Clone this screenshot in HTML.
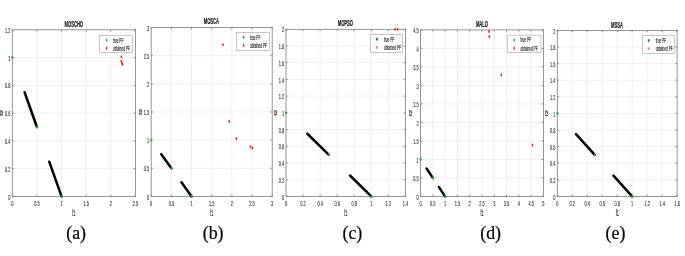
<!DOCTYPE html>
<html><head><meta charset="utf-8"><style>
html,body{margin:0;padding:0;background:#fff;}
body{width:685px;height:256px;overflow:hidden;}
svg{display:block;filter:blur(0.3px);}
</style></head><body>
<svg width="685" height="256" viewBox="0 0 685 256">
<rect width="685" height="256" fill="#fff"/>
<path d="M36.92 29.80V196.40M61.54 29.80V196.40M86.16 29.80V196.40M110.78 29.80V196.40M12.30 168.63H135.40M12.30 140.87H135.40M12.30 113.10H135.40M12.30 85.33H135.40M12.30 57.57H135.40" stroke="#e8e8e8" stroke-width="0.7" fill="none"/>
<path d="M12.30 196.40v-1.7M12.30 29.80v1.7M36.92 196.40v-1.7M36.92 29.80v1.7M61.54 196.40v-1.7M61.54 29.80v1.7M86.16 196.40v-1.7M86.16 29.80v1.7M110.78 196.40v-1.7M110.78 29.80v1.7M135.40 196.40v-1.7M135.40 29.80v1.7M12.30 196.40h1.7M135.40 196.40h-1.7M12.30 168.63h1.7M135.40 168.63h-1.7M12.30 140.87h1.7M135.40 140.87h-1.7M12.30 113.10h1.7M135.40 113.10h-1.7M12.30 85.33h1.7M135.40 85.33h-1.7M12.30 57.57h1.7M135.40 57.57h-1.7M12.30 29.80h1.7M135.40 29.80h-1.7" stroke="#606060" stroke-width="0.7" fill="none"/>
<rect x="12.30" y="29.80" width="123.10" height="166.60" fill="none" stroke="#7c7c7c" stroke-width="0.8"/>
<text transform="translate(12.30,206.10) scale(0.56,1)" font-family="Liberation Sans" font-size="7.0" font-weight="normal" text-anchor="middle" fill="#2a2a2a" stroke="#2a2a2a" stroke-width="0.12">0</text>
<text transform="translate(36.92,206.10) scale(0.56,1)" font-family="Liberation Sans" font-size="7.0" font-weight="normal" text-anchor="middle" fill="#2a2a2a" stroke="#2a2a2a" stroke-width="0.12">0.5</text>
<text transform="translate(61.54,206.10) scale(0.56,1)" font-family="Liberation Sans" font-size="7.0" font-weight="normal" text-anchor="middle" fill="#2a2a2a" stroke="#2a2a2a" stroke-width="0.12">1</text>
<text transform="translate(86.16,206.10) scale(0.56,1)" font-family="Liberation Sans" font-size="7.0" font-weight="normal" text-anchor="middle" fill="#2a2a2a" stroke="#2a2a2a" stroke-width="0.12">1.5</text>
<text transform="translate(110.78,206.10) scale(0.56,1)" font-family="Liberation Sans" font-size="7.0" font-weight="normal" text-anchor="middle" fill="#2a2a2a" stroke="#2a2a2a" stroke-width="0.12">2</text>
<text transform="translate(135.40,206.10) scale(0.56,1)" font-family="Liberation Sans" font-size="7.0" font-weight="normal" text-anchor="middle" fill="#2a2a2a" stroke="#2a2a2a" stroke-width="0.12">2.5</text>
<text transform="translate(10.40,199.50) scale(0.56,1)" font-family="Liberation Sans" font-size="7.0" font-weight="normal" text-anchor="end" fill="#2a2a2a" stroke="#2a2a2a" stroke-width="0.12">0</text>
<text transform="translate(10.40,171.73) scale(0.56,1)" font-family="Liberation Sans" font-size="7.0" font-weight="normal" text-anchor="end" fill="#2a2a2a" stroke="#2a2a2a" stroke-width="0.12">0.2</text>
<text transform="translate(10.40,143.97) scale(0.56,1)" font-family="Liberation Sans" font-size="7.0" font-weight="normal" text-anchor="end" fill="#2a2a2a" stroke="#2a2a2a" stroke-width="0.12">0.4</text>
<text transform="translate(10.40,116.20) scale(0.56,1)" font-family="Liberation Sans" font-size="7.0" font-weight="normal" text-anchor="end" fill="#2a2a2a" stroke="#2a2a2a" stroke-width="0.12">0.6</text>
<text transform="translate(10.40,88.43) scale(0.56,1)" font-family="Liberation Sans" font-size="7.0" font-weight="normal" text-anchor="end" fill="#2a2a2a" stroke="#2a2a2a" stroke-width="0.12">0.8</text>
<text transform="translate(10.40,60.67) scale(0.56,1)" font-family="Liberation Sans" font-size="7.0" font-weight="normal" text-anchor="end" fill="#2a2a2a" stroke="#2a2a2a" stroke-width="0.12">1</text>
<text transform="translate(10.40,32.90) scale(0.56,1)" font-family="Liberation Sans" font-size="7.0" font-weight="normal" text-anchor="end" fill="#2a2a2a" stroke="#2a2a2a" stroke-width="0.12">1.2</text>
<text transform="translate(73.85,215.60) scale(0.45,1)" font-family="Liberation Sans" font-size="8.4" font-weight="normal" text-anchor="middle" fill="#2a2a2a" stroke="#2a2a2a" stroke-width="0.2">f1</text>
<text transform="translate(3.03,113.00) rotate(-90) scale(1,0.5)" font-family="Liberation Sans" font-size="7.4" font-weight="normal" text-anchor="middle" fill="#2a2a2a" stroke="#2a2a2a" stroke-width="0.3">f2</text>
<text transform="translate(73.80,26.90) scale(0.47,1)" font-family="Liberation Sans" font-size="8.8" font-weight="bold" text-anchor="middle" fill="#111" stroke="#111" stroke-width="0.18">MOSCHO</text>
<path d="M24.61 92.28L36.92 126.98M49.23 161.69L61.54 196.40" stroke="#000" stroke-width="2.5" stroke-linecap="round" fill="none"/>
<ellipse cx="12.30" cy="57.57" rx="1.0" ry="1.4" fill="#1fae1f"/>
<ellipse cx="36.92" cy="126.98" rx="1.0" ry="1.4" fill="#1fae1f"/>
<ellipse cx="61.54" cy="196.40" rx="1.0" ry="1.4" fill="#1fae1f"/>
<ellipse cx="121.40" cy="56.70" rx="0.85" ry="1.55" fill="#ff2020"/>
<ellipse cx="121.30" cy="61.00" rx="0.85" ry="1.55" fill="#ff2020"/>
<ellipse cx="121.90" cy="62.80" rx="0.85" ry="1.55" fill="#ff2020"/>
<ellipse cx="122.50" cy="64.30" rx="0.85" ry="1.55" fill="#ff2020"/>
<rect x="99.60" y="35.30" width="33.00" height="17.30" fill="#fff" stroke="#a0a0a0" stroke-width="0.6"/>
<ellipse cx="106.60" cy="40.10" rx="0.85" ry="1.6" fill="#1fae1f"/>
<ellipse cx="106.60" cy="48.30" rx="0.75" ry="1.7" fill="#ff2020"/>
<text transform="translate(113.00,42.50) scale(0.48,1)" font-family="Liberation Sans" font-size="6.6" font-weight="normal" text-anchor="start" fill="#2a2a2a" stroke="#2a2a2a" stroke-width="0.2">true PF</text>
<text transform="translate(113.00,50.60) scale(0.48,1)" font-family="Liberation Sans" font-size="6.6" font-weight="normal" text-anchor="start" fill="#2a2a2a" stroke="#2a2a2a" stroke-width="0.2">obtained PF</text>
<text transform="translate(76.10,238.90) scale(0.92,1)" font-family="Liberation Serif" font-size="19.4" font-weight="normal" text-anchor="middle" fill="#000" stroke="#000" stroke-width="0.22">(a)</text>
<path d="M171.37 27.50V196.40M191.53 27.50V196.40M211.70 27.50V196.40M231.87 27.50V196.40M252.03 27.50V196.40M151.20 168.25H272.20M151.20 140.10H272.20M151.20 111.95H272.20M151.20 83.80H272.20M151.20 55.65H272.20" stroke="#e8e8e8" stroke-width="0.7" fill="none"/>
<path d="M151.20 196.40v-1.7M151.20 27.50v1.7M171.37 196.40v-1.7M171.37 27.50v1.7M191.53 196.40v-1.7M191.53 27.50v1.7M211.70 196.40v-1.7M211.70 27.50v1.7M231.87 196.40v-1.7M231.87 27.50v1.7M252.03 196.40v-1.7M252.03 27.50v1.7M272.20 196.40v-1.7M272.20 27.50v1.7M151.20 196.40h1.7M272.20 196.40h-1.7M151.20 168.25h1.7M272.20 168.25h-1.7M151.20 140.10h1.7M272.20 140.10h-1.7M151.20 111.95h1.7M272.20 111.95h-1.7M151.20 83.80h1.7M272.20 83.80h-1.7M151.20 55.65h1.7M272.20 55.65h-1.7M151.20 27.50h1.7M272.20 27.50h-1.7" stroke="#606060" stroke-width="0.7" fill="none"/>
<rect x="151.20" y="27.50" width="121.00" height="168.90" fill="none" stroke="#7c7c7c" stroke-width="0.8"/>
<text transform="translate(151.20,206.10) scale(0.56,1)" font-family="Liberation Sans" font-size="7.0" font-weight="normal" text-anchor="middle" fill="#2a2a2a" stroke="#2a2a2a" stroke-width="0.12">0</text>
<text transform="translate(171.37,206.10) scale(0.56,1)" font-family="Liberation Sans" font-size="7.0" font-weight="normal" text-anchor="middle" fill="#2a2a2a" stroke="#2a2a2a" stroke-width="0.12">0.5</text>
<text transform="translate(191.53,206.10) scale(0.56,1)" font-family="Liberation Sans" font-size="7.0" font-weight="normal" text-anchor="middle" fill="#2a2a2a" stroke="#2a2a2a" stroke-width="0.12">1</text>
<text transform="translate(211.70,206.10) scale(0.56,1)" font-family="Liberation Sans" font-size="7.0" font-weight="normal" text-anchor="middle" fill="#2a2a2a" stroke="#2a2a2a" stroke-width="0.12">1.5</text>
<text transform="translate(231.87,206.10) scale(0.56,1)" font-family="Liberation Sans" font-size="7.0" font-weight="normal" text-anchor="middle" fill="#2a2a2a" stroke="#2a2a2a" stroke-width="0.12">2</text>
<text transform="translate(252.03,206.10) scale(0.56,1)" font-family="Liberation Sans" font-size="7.0" font-weight="normal" text-anchor="middle" fill="#2a2a2a" stroke="#2a2a2a" stroke-width="0.12">2.5</text>
<text transform="translate(272.20,206.10) scale(0.56,1)" font-family="Liberation Sans" font-size="7.0" font-weight="normal" text-anchor="middle" fill="#2a2a2a" stroke="#2a2a2a" stroke-width="0.12">3</text>
<text transform="translate(149.30,199.50) scale(0.56,1)" font-family="Liberation Sans" font-size="7.0" font-weight="normal" text-anchor="end" fill="#2a2a2a" stroke="#2a2a2a" stroke-width="0.12">0</text>
<text transform="translate(149.30,171.35) scale(0.56,1)" font-family="Liberation Sans" font-size="7.0" font-weight="normal" text-anchor="end" fill="#2a2a2a" stroke="#2a2a2a" stroke-width="0.12">0.5</text>
<text transform="translate(149.30,143.20) scale(0.56,1)" font-family="Liberation Sans" font-size="7.0" font-weight="normal" text-anchor="end" fill="#2a2a2a" stroke="#2a2a2a" stroke-width="0.12">1</text>
<text transform="translate(149.30,115.05) scale(0.56,1)" font-family="Liberation Sans" font-size="7.0" font-weight="normal" text-anchor="end" fill="#2a2a2a" stroke="#2a2a2a" stroke-width="0.12">1.5</text>
<text transform="translate(149.30,86.90) scale(0.56,1)" font-family="Liberation Sans" font-size="7.0" font-weight="normal" text-anchor="end" fill="#2a2a2a" stroke="#2a2a2a" stroke-width="0.12">2</text>
<text transform="translate(149.30,58.75) scale(0.56,1)" font-family="Liberation Sans" font-size="7.0" font-weight="normal" text-anchor="end" fill="#2a2a2a" stroke="#2a2a2a" stroke-width="0.12">2.5</text>
<text transform="translate(149.30,30.60) scale(0.56,1)" font-family="Liberation Sans" font-size="7.0" font-weight="normal" text-anchor="end" fill="#2a2a2a" stroke="#2a2a2a" stroke-width="0.12">3</text>
<text transform="translate(211.70,215.60) scale(0.45,1)" font-family="Liberation Sans" font-size="8.4" font-weight="normal" text-anchor="middle" fill="#2a2a2a" stroke="#2a2a2a" stroke-width="0.2">f1</text>
<text transform="translate(141.73,111.85) rotate(-90) scale(1,0.5)" font-family="Liberation Sans" font-size="7.4" font-weight="normal" text-anchor="middle" fill="#2a2a2a" stroke="#2a2a2a" stroke-width="0.3">f2</text>
<text transform="translate(211.40,24.00) scale(0.47,1)" font-family="Liberation Sans" font-size="8.8" font-weight="bold" text-anchor="middle" fill="#111" stroke="#111" stroke-width="0.18">MOSCA</text>
<path d="M161.28 154.18L171.37 168.25M181.45 182.33L191.53 196.40" stroke="#000" stroke-width="2.5" stroke-linecap="round" fill="none"/>
<ellipse cx="151.20" cy="140.10" rx="1.0" ry="1.4" fill="#1fae1f"/>
<ellipse cx="171.37" cy="168.25" rx="1.0" ry="1.4" fill="#1fae1f"/>
<ellipse cx="191.53" cy="196.40" rx="1.0" ry="1.4" fill="#1fae1f"/>
<ellipse cx="223.10" cy="44.80" rx="0.85" ry="1.55" fill="#ff2020"/>
<ellipse cx="229.30" cy="121.40" rx="0.85" ry="1.55" fill="#ff2020"/>
<ellipse cx="236.40" cy="138.60" rx="0.85" ry="1.55" fill="#ff2020"/>
<ellipse cx="250.40" cy="146.70" rx="0.85" ry="1.55" fill="#ff2020"/>
<ellipse cx="252.50" cy="147.90" rx="0.85" ry="1.55" fill="#ff2020"/>
<rect x="236.60" y="32.50" width="32.80" height="18.10" fill="#fff" stroke="#a0a0a0" stroke-width="0.6"/>
<ellipse cx="243.60" cy="37.30" rx="0.85" ry="1.6" fill="#1fae1f"/>
<ellipse cx="243.60" cy="45.50" rx="0.75" ry="1.7" fill="#ff2020"/>
<text transform="translate(250.00,39.70) scale(0.48,1)" font-family="Liberation Sans" font-size="6.6" font-weight="normal" text-anchor="start" fill="#2a2a2a" stroke="#2a2a2a" stroke-width="0.2">true PF</text>
<text transform="translate(250.00,47.80) scale(0.48,1)" font-family="Liberation Sans" font-size="6.6" font-weight="normal" text-anchor="start" fill="#2a2a2a" stroke="#2a2a2a" stroke-width="0.2">obtained PF</text>
<text transform="translate(213.10,238.90) scale(0.92,1)" font-family="Liberation Serif" font-size="19.4" font-weight="normal" text-anchor="middle" fill="#000" stroke="#000" stroke-width="0.22">(b)</text>
<path d="M303.06 29.30V196.40M320.11 29.30V196.40M337.17 29.30V196.40M354.23 29.30V196.40M371.29 29.30V196.40M388.34 29.30V196.40M286.00 179.69H405.40M286.00 162.98H405.40M286.00 146.27H405.40M286.00 129.56H405.40M286.00 112.85H405.40M286.00 96.14H405.40M286.00 79.43H405.40M286.00 62.72H405.40M286.00 46.01H405.40" stroke="#e8e8e8" stroke-width="0.7" fill="none"/>
<path d="M286.00 196.40v-1.7M286.00 29.30v1.7M303.06 196.40v-1.7M303.06 29.30v1.7M320.11 196.40v-1.7M320.11 29.30v1.7M337.17 196.40v-1.7M337.17 29.30v1.7M354.23 196.40v-1.7M354.23 29.30v1.7M371.29 196.40v-1.7M371.29 29.30v1.7M388.34 196.40v-1.7M388.34 29.30v1.7M405.40 196.40v-1.7M405.40 29.30v1.7M286.00 196.40h1.7M405.40 196.40h-1.7M286.00 179.69h1.7M405.40 179.69h-1.7M286.00 162.98h1.7M405.40 162.98h-1.7M286.00 146.27h1.7M405.40 146.27h-1.7M286.00 129.56h1.7M405.40 129.56h-1.7M286.00 112.85h1.7M405.40 112.85h-1.7M286.00 96.14h1.7M405.40 96.14h-1.7M286.00 79.43h1.7M405.40 79.43h-1.7M286.00 62.72h1.7M405.40 62.72h-1.7M286.00 46.01h1.7M405.40 46.01h-1.7M286.00 29.30h1.7M405.40 29.30h-1.7" stroke="#606060" stroke-width="0.7" fill="none"/>
<rect x="286.00" y="29.30" width="119.40" height="167.10" fill="none" stroke="#7c7c7c" stroke-width="0.8"/>
<text transform="translate(286.00,206.10) scale(0.56,1)" font-family="Liberation Sans" font-size="7.0" font-weight="normal" text-anchor="middle" fill="#2a2a2a" stroke="#2a2a2a" stroke-width="0.12">0</text>
<text transform="translate(303.06,206.10) scale(0.56,1)" font-family="Liberation Sans" font-size="7.0" font-weight="normal" text-anchor="middle" fill="#2a2a2a" stroke="#2a2a2a" stroke-width="0.12">0.2</text>
<text transform="translate(320.11,206.10) scale(0.56,1)" font-family="Liberation Sans" font-size="7.0" font-weight="normal" text-anchor="middle" fill="#2a2a2a" stroke="#2a2a2a" stroke-width="0.12">0.4</text>
<text transform="translate(337.17,206.10) scale(0.56,1)" font-family="Liberation Sans" font-size="7.0" font-weight="normal" text-anchor="middle" fill="#2a2a2a" stroke="#2a2a2a" stroke-width="0.12">0.6</text>
<text transform="translate(354.23,206.10) scale(0.56,1)" font-family="Liberation Sans" font-size="7.0" font-weight="normal" text-anchor="middle" fill="#2a2a2a" stroke="#2a2a2a" stroke-width="0.12">0.8</text>
<text transform="translate(371.29,206.10) scale(0.56,1)" font-family="Liberation Sans" font-size="7.0" font-weight="normal" text-anchor="middle" fill="#2a2a2a" stroke="#2a2a2a" stroke-width="0.12">1</text>
<text transform="translate(388.34,206.10) scale(0.56,1)" font-family="Liberation Sans" font-size="7.0" font-weight="normal" text-anchor="middle" fill="#2a2a2a" stroke="#2a2a2a" stroke-width="0.12">1.2</text>
<text transform="translate(405.40,206.10) scale(0.56,1)" font-family="Liberation Sans" font-size="7.0" font-weight="normal" text-anchor="middle" fill="#2a2a2a" stroke="#2a2a2a" stroke-width="0.12">1.4</text>
<text transform="translate(284.10,199.50) scale(0.56,1)" font-family="Liberation Sans" font-size="7.0" font-weight="normal" text-anchor="end" fill="#2a2a2a" stroke="#2a2a2a" stroke-width="0.12">0</text>
<text transform="translate(284.10,182.79) scale(0.56,1)" font-family="Liberation Sans" font-size="7.0" font-weight="normal" text-anchor="end" fill="#2a2a2a" stroke="#2a2a2a" stroke-width="0.12">0.2</text>
<text transform="translate(284.10,166.08) scale(0.56,1)" font-family="Liberation Sans" font-size="7.0" font-weight="normal" text-anchor="end" fill="#2a2a2a" stroke="#2a2a2a" stroke-width="0.12">0.4</text>
<text transform="translate(284.10,149.37) scale(0.56,1)" font-family="Liberation Sans" font-size="7.0" font-weight="normal" text-anchor="end" fill="#2a2a2a" stroke="#2a2a2a" stroke-width="0.12">0.6</text>
<text transform="translate(284.10,132.66) scale(0.56,1)" font-family="Liberation Sans" font-size="7.0" font-weight="normal" text-anchor="end" fill="#2a2a2a" stroke="#2a2a2a" stroke-width="0.12">0.8</text>
<text transform="translate(284.10,115.95) scale(0.56,1)" font-family="Liberation Sans" font-size="7.0" font-weight="normal" text-anchor="end" fill="#2a2a2a" stroke="#2a2a2a" stroke-width="0.12">1</text>
<text transform="translate(284.10,99.24) scale(0.56,1)" font-family="Liberation Sans" font-size="7.0" font-weight="normal" text-anchor="end" fill="#2a2a2a" stroke="#2a2a2a" stroke-width="0.12">1.2</text>
<text transform="translate(284.10,82.53) scale(0.56,1)" font-family="Liberation Sans" font-size="7.0" font-weight="normal" text-anchor="end" fill="#2a2a2a" stroke="#2a2a2a" stroke-width="0.12">1.4</text>
<text transform="translate(284.10,65.82) scale(0.56,1)" font-family="Liberation Sans" font-size="7.0" font-weight="normal" text-anchor="end" fill="#2a2a2a" stroke="#2a2a2a" stroke-width="0.12">1.6</text>
<text transform="translate(284.10,49.11) scale(0.56,1)" font-family="Liberation Sans" font-size="7.0" font-weight="normal" text-anchor="end" fill="#2a2a2a" stroke="#2a2a2a" stroke-width="0.12">1.8</text>
<text transform="translate(284.10,32.40) scale(0.56,1)" font-family="Liberation Sans" font-size="7.0" font-weight="normal" text-anchor="end" fill="#2a2a2a" stroke="#2a2a2a" stroke-width="0.12">2</text>
<text transform="translate(345.70,215.60) scale(0.45,1)" font-family="Liberation Sans" font-size="8.4" font-weight="normal" text-anchor="middle" fill="#2a2a2a" stroke="#2a2a2a" stroke-width="0.2">f1</text>
<text transform="translate(277.33,112.75) rotate(-90) scale(1,0.5)" font-family="Liberation Sans" font-size="7.4" font-weight="normal" text-anchor="middle" fill="#2a2a2a" stroke="#2a2a2a" stroke-width="0.3">f2</text>
<text transform="translate(345.40,25.80) scale(0.47,1)" font-family="Liberation Sans" font-size="8.8" font-weight="bold" text-anchor="middle" fill="#111" stroke="#111" stroke-width="0.18">MOPSO</text>
<path d="M307.32 133.74L328.64 154.62M349.96 175.51L371.29 196.40" stroke="#000" stroke-width="2.5" stroke-linecap="round" fill="none"/>
<ellipse cx="286.00" cy="112.85" rx="1.0" ry="1.4" fill="#1fae1f"/>
<ellipse cx="328.64" cy="154.62" rx="1.0" ry="1.4" fill="#1fae1f"/>
<ellipse cx="371.29" cy="196.40" rx="1.0" ry="1.4" fill="#1fae1f"/>
<ellipse cx="395.00" cy="29.30" rx="0.85" ry="1.55" fill="#ff2020"/>
<ellipse cx="397.70" cy="29.30" rx="0.85" ry="1.55" fill="#ff2020"/>
<rect x="370.50" y="34.40" width="32.10" height="18.00" fill="#fff" stroke="#a0a0a0" stroke-width="0.6"/>
<rect x="376.00" y="37.90" width="1.8" height="2.6" fill="#138a13"/>
<rect x="376.00" y="46.10" width="1.8" height="2.6" fill="#ff7a7a"/>
<text transform="translate(383.90,41.60) scale(0.48,1)" font-family="Liberation Sans" font-size="6.6" font-weight="normal" text-anchor="start" fill="#2a2a2a" stroke="#2a2a2a" stroke-width="0.2">true PF</text>
<text transform="translate(383.90,49.70) scale(0.48,1)" font-family="Liberation Sans" font-size="6.6" font-weight="normal" text-anchor="start" fill="#2a2a2a" stroke="#2a2a2a" stroke-width="0.2">obtained PF</text>
<text transform="translate(352.40,238.90) scale(0.92,1)" font-family="Liberation Serif" font-size="19.4" font-weight="normal" text-anchor="middle" fill="#000" stroke="#000" stroke-width="0.22">(c)</text>
<path d="M432.79 29.90V196.40M445.08 29.90V196.40M457.37 29.90V196.40M469.66 29.90V196.40M481.95 29.90V196.40M494.24 29.90V196.40M506.53 29.90V196.40M518.82 29.90V196.40M531.11 29.90V196.40M420.50 177.90H543.40M420.50 159.40H543.40M420.50 140.90H543.40M420.50 122.40H543.40M420.50 103.90H543.40M420.50 85.40H543.40M420.50 66.90H543.40M420.50 48.40H543.40" stroke="#e8e8e8" stroke-width="0.7" fill="none"/>
<path d="M420.50 196.40v-1.7M420.50 29.90v1.7M432.79 196.40v-1.7M432.79 29.90v1.7M445.08 196.40v-1.7M445.08 29.90v1.7M457.37 196.40v-1.7M457.37 29.90v1.7M469.66 196.40v-1.7M469.66 29.90v1.7M481.95 196.40v-1.7M481.95 29.90v1.7M494.24 196.40v-1.7M494.24 29.90v1.7M506.53 196.40v-1.7M506.53 29.90v1.7M518.82 196.40v-1.7M518.82 29.90v1.7M531.11 196.40v-1.7M531.11 29.90v1.7M543.40 196.40v-1.7M543.40 29.90v1.7M420.50 196.40h1.7M543.40 196.40h-1.7M420.50 177.90h1.7M543.40 177.90h-1.7M420.50 159.40h1.7M543.40 159.40h-1.7M420.50 140.90h1.7M543.40 140.90h-1.7M420.50 122.40h1.7M543.40 122.40h-1.7M420.50 103.90h1.7M543.40 103.90h-1.7M420.50 85.40h1.7M543.40 85.40h-1.7M420.50 66.90h1.7M543.40 66.90h-1.7M420.50 48.40h1.7M543.40 48.40h-1.7M420.50 29.90h1.7M543.40 29.90h-1.7" stroke="#606060" stroke-width="0.7" fill="none"/>
<rect x="420.50" y="29.90" width="122.90" height="166.50" fill="none" stroke="#7c7c7c" stroke-width="0.8"/>
<text transform="translate(420.50,206.10) scale(0.56,1)" font-family="Liberation Sans" font-size="7.0" font-weight="normal" text-anchor="middle" fill="#2a2a2a" stroke="#2a2a2a" stroke-width="0.12">0</text>
<text transform="translate(432.79,206.10) scale(0.56,1)" font-family="Liberation Sans" font-size="7.0" font-weight="normal" text-anchor="middle" fill="#2a2a2a" stroke="#2a2a2a" stroke-width="0.12">0.5</text>
<text transform="translate(445.08,206.10) scale(0.56,1)" font-family="Liberation Sans" font-size="7.0" font-weight="normal" text-anchor="middle" fill="#2a2a2a" stroke="#2a2a2a" stroke-width="0.12">1</text>
<text transform="translate(457.37,206.10) scale(0.56,1)" font-family="Liberation Sans" font-size="7.0" font-weight="normal" text-anchor="middle" fill="#2a2a2a" stroke="#2a2a2a" stroke-width="0.12">1.5</text>
<text transform="translate(469.66,206.10) scale(0.56,1)" font-family="Liberation Sans" font-size="7.0" font-weight="normal" text-anchor="middle" fill="#2a2a2a" stroke="#2a2a2a" stroke-width="0.12">2</text>
<text transform="translate(481.95,206.10) scale(0.56,1)" font-family="Liberation Sans" font-size="7.0" font-weight="normal" text-anchor="middle" fill="#2a2a2a" stroke="#2a2a2a" stroke-width="0.12">2.5</text>
<text transform="translate(494.24,206.10) scale(0.56,1)" font-family="Liberation Sans" font-size="7.0" font-weight="normal" text-anchor="middle" fill="#2a2a2a" stroke="#2a2a2a" stroke-width="0.12">3</text>
<text transform="translate(506.53,206.10) scale(0.56,1)" font-family="Liberation Sans" font-size="7.0" font-weight="normal" text-anchor="middle" fill="#2a2a2a" stroke="#2a2a2a" stroke-width="0.12">3.5</text>
<text transform="translate(518.82,206.10) scale(0.56,1)" font-family="Liberation Sans" font-size="7.0" font-weight="normal" text-anchor="middle" fill="#2a2a2a" stroke="#2a2a2a" stroke-width="0.12">4</text>
<text transform="translate(531.11,206.10) scale(0.56,1)" font-family="Liberation Sans" font-size="7.0" font-weight="normal" text-anchor="middle" fill="#2a2a2a" stroke="#2a2a2a" stroke-width="0.12">4.5</text>
<text transform="translate(543.40,206.10) scale(0.56,1)" font-family="Liberation Sans" font-size="7.0" font-weight="normal" text-anchor="middle" fill="#2a2a2a" stroke="#2a2a2a" stroke-width="0.12">5</text>
<text transform="translate(418.60,199.50) scale(0.56,1)" font-family="Liberation Sans" font-size="7.0" font-weight="normal" text-anchor="end" fill="#2a2a2a" stroke="#2a2a2a" stroke-width="0.12">0</text>
<text transform="translate(418.60,181.00) scale(0.56,1)" font-family="Liberation Sans" font-size="7.0" font-weight="normal" text-anchor="end" fill="#2a2a2a" stroke="#2a2a2a" stroke-width="0.12">0.5</text>
<text transform="translate(418.60,162.50) scale(0.56,1)" font-family="Liberation Sans" font-size="7.0" font-weight="normal" text-anchor="end" fill="#2a2a2a" stroke="#2a2a2a" stroke-width="0.12">1</text>
<text transform="translate(418.60,144.00) scale(0.56,1)" font-family="Liberation Sans" font-size="7.0" font-weight="normal" text-anchor="end" fill="#2a2a2a" stroke="#2a2a2a" stroke-width="0.12">1.5</text>
<text transform="translate(418.60,125.50) scale(0.56,1)" font-family="Liberation Sans" font-size="7.0" font-weight="normal" text-anchor="end" fill="#2a2a2a" stroke="#2a2a2a" stroke-width="0.12">2</text>
<text transform="translate(418.60,107.00) scale(0.56,1)" font-family="Liberation Sans" font-size="7.0" font-weight="normal" text-anchor="end" fill="#2a2a2a" stroke="#2a2a2a" stroke-width="0.12">2.5</text>
<text transform="translate(418.60,88.50) scale(0.56,1)" font-family="Liberation Sans" font-size="7.0" font-weight="normal" text-anchor="end" fill="#2a2a2a" stroke="#2a2a2a" stroke-width="0.12">3</text>
<text transform="translate(418.60,70.00) scale(0.56,1)" font-family="Liberation Sans" font-size="7.0" font-weight="normal" text-anchor="end" fill="#2a2a2a" stroke="#2a2a2a" stroke-width="0.12">3.5</text>
<text transform="translate(418.60,51.50) scale(0.56,1)" font-family="Liberation Sans" font-size="7.0" font-weight="normal" text-anchor="end" fill="#2a2a2a" stroke="#2a2a2a" stroke-width="0.12">4</text>
<text transform="translate(418.60,33.00) scale(0.56,1)" font-family="Liberation Sans" font-size="7.0" font-weight="normal" text-anchor="end" fill="#2a2a2a" stroke="#2a2a2a" stroke-width="0.12">4.5</text>
<text transform="translate(481.95,215.60) scale(0.45,1)" font-family="Liberation Sans" font-size="8.4" font-weight="normal" text-anchor="middle" fill="#2a2a2a" stroke="#2a2a2a" stroke-width="0.2">f1</text>
<text transform="translate(411.93,113.05) rotate(-90) scale(1,0.5)" font-family="Liberation Sans" font-size="7.4" font-weight="normal" text-anchor="middle" fill="#2a2a2a" stroke="#2a2a2a" stroke-width="0.3">f2</text>
<text transform="translate(482.00,26.70) scale(0.47,1)" font-family="Liberation Sans" font-size="8.8" font-weight="bold" text-anchor="middle" fill="#111" stroke="#111" stroke-width="0.18">MALO</text>
<path d="M426.64 168.65L432.79 177.90M438.94 187.15L445.08 196.40" stroke="#000" stroke-width="2.5" stroke-linecap="round" fill="none"/>
<ellipse cx="420.50" cy="159.40" rx="1.0" ry="1.4" fill="#1fae1f"/>
<ellipse cx="432.79" cy="177.90" rx="1.0" ry="1.4" fill="#1fae1f"/>
<ellipse cx="445.08" cy="196.40" rx="1.0" ry="1.4" fill="#1fae1f"/>
<ellipse cx="489.00" cy="31.40" rx="0.85" ry="1.55" fill="#ff2020"/>
<ellipse cx="489.40" cy="36.60" rx="0.85" ry="1.55" fill="#ff2020"/>
<ellipse cx="501.30" cy="74.70" rx="0.85" ry="1.55" fill="#ff2020"/>
<ellipse cx="532.40" cy="145.00" rx="0.85" ry="1.55" fill="#ff2020"/>
<rect x="507.20" y="35.20" width="33.80" height="17.30" fill="#fff" stroke="#a0a0a0" stroke-width="0.6"/>
<ellipse cx="514.20" cy="40.00" rx="0.85" ry="1.6" fill="#1fae1f"/>
<ellipse cx="514.20" cy="48.20" rx="0.75" ry="1.7" fill="#ff2020"/>
<text transform="translate(520.60,42.40) scale(0.48,1)" font-family="Liberation Sans" font-size="6.6" font-weight="normal" text-anchor="start" fill="#2a2a2a" stroke="#2a2a2a" stroke-width="0.2">true PF</text>
<text transform="translate(520.60,50.50) scale(0.48,1)" font-family="Liberation Sans" font-size="6.6" font-weight="normal" text-anchor="start" fill="#2a2a2a" stroke="#2a2a2a" stroke-width="0.2">obtained PF</text>
<text transform="translate(490.60,238.90) scale(0.92,1)" font-family="Liberation Serif" font-size="19.4" font-weight="normal" text-anchor="middle" fill="#000" stroke="#000" stroke-width="0.22">(d)</text>
<path d="M572.27 30.40V196.40M587.25 30.40V196.40M602.23 30.40V196.40M617.20 30.40V196.40M632.17 30.40V196.40M647.15 30.40V196.40M662.12 30.40V196.40M557.30 179.80H677.10M557.30 163.20H677.10M557.30 146.60H677.10M557.30 130.00H677.10M557.30 113.40H677.10M557.30 96.80H677.10M557.30 80.20H677.10M557.30 63.60H677.10M557.30 47.00H677.10" stroke="#e8e8e8" stroke-width="0.7" fill="none"/>
<path d="M557.30 196.40v-1.7M557.30 30.40v1.7M572.27 196.40v-1.7M572.27 30.40v1.7M587.25 196.40v-1.7M587.25 30.40v1.7M602.23 196.40v-1.7M602.23 30.40v1.7M617.20 196.40v-1.7M617.20 30.40v1.7M632.17 196.40v-1.7M632.17 30.40v1.7M647.15 196.40v-1.7M647.15 30.40v1.7M662.12 196.40v-1.7M662.12 30.40v1.7M677.10 196.40v-1.7M677.10 30.40v1.7M557.30 196.40h1.7M677.10 196.40h-1.7M557.30 179.80h1.7M677.10 179.80h-1.7M557.30 163.20h1.7M677.10 163.20h-1.7M557.30 146.60h1.7M677.10 146.60h-1.7M557.30 130.00h1.7M677.10 130.00h-1.7M557.30 113.40h1.7M677.10 113.40h-1.7M557.30 96.80h1.7M677.10 96.80h-1.7M557.30 80.20h1.7M677.10 80.20h-1.7M557.30 63.60h1.7M677.10 63.60h-1.7M557.30 47.00h1.7M677.10 47.00h-1.7M557.30 30.40h1.7M677.10 30.40h-1.7" stroke="#606060" stroke-width="0.7" fill="none"/>
<rect x="557.30" y="30.40" width="119.80" height="166.00" fill="none" stroke="#7c7c7c" stroke-width="0.8"/>
<text transform="translate(557.30,206.10) scale(0.56,1)" font-family="Liberation Sans" font-size="7.0" font-weight="normal" text-anchor="middle" fill="#2a2a2a" stroke="#2a2a2a" stroke-width="0.12">0</text>
<text transform="translate(572.27,206.10) scale(0.56,1)" font-family="Liberation Sans" font-size="7.0" font-weight="normal" text-anchor="middle" fill="#2a2a2a" stroke="#2a2a2a" stroke-width="0.12">0.2</text>
<text transform="translate(587.25,206.10) scale(0.56,1)" font-family="Liberation Sans" font-size="7.0" font-weight="normal" text-anchor="middle" fill="#2a2a2a" stroke="#2a2a2a" stroke-width="0.12">0.4</text>
<text transform="translate(602.23,206.10) scale(0.56,1)" font-family="Liberation Sans" font-size="7.0" font-weight="normal" text-anchor="middle" fill="#2a2a2a" stroke="#2a2a2a" stroke-width="0.12">0.6</text>
<text transform="translate(617.20,206.10) scale(0.56,1)" font-family="Liberation Sans" font-size="7.0" font-weight="normal" text-anchor="middle" fill="#2a2a2a" stroke="#2a2a2a" stroke-width="0.12">0.8</text>
<text transform="translate(632.17,206.10) scale(0.56,1)" font-family="Liberation Sans" font-size="7.0" font-weight="normal" text-anchor="middle" fill="#2a2a2a" stroke="#2a2a2a" stroke-width="0.12">1</text>
<text transform="translate(647.15,206.10) scale(0.56,1)" font-family="Liberation Sans" font-size="7.0" font-weight="normal" text-anchor="middle" fill="#2a2a2a" stroke="#2a2a2a" stroke-width="0.12">1.2</text>
<text transform="translate(662.12,206.10) scale(0.56,1)" font-family="Liberation Sans" font-size="7.0" font-weight="normal" text-anchor="middle" fill="#2a2a2a" stroke="#2a2a2a" stroke-width="0.12">1.4</text>
<text transform="translate(677.10,206.10) scale(0.56,1)" font-family="Liberation Sans" font-size="7.0" font-weight="normal" text-anchor="middle" fill="#2a2a2a" stroke="#2a2a2a" stroke-width="0.12">1.6</text>
<text transform="translate(555.40,199.50) scale(0.56,1)" font-family="Liberation Sans" font-size="7.0" font-weight="normal" text-anchor="end" fill="#2a2a2a" stroke="#2a2a2a" stroke-width="0.12">0</text>
<text transform="translate(555.40,182.90) scale(0.56,1)" font-family="Liberation Sans" font-size="7.0" font-weight="normal" text-anchor="end" fill="#2a2a2a" stroke="#2a2a2a" stroke-width="0.12">0.2</text>
<text transform="translate(555.40,166.30) scale(0.56,1)" font-family="Liberation Sans" font-size="7.0" font-weight="normal" text-anchor="end" fill="#2a2a2a" stroke="#2a2a2a" stroke-width="0.12">0.4</text>
<text transform="translate(555.40,149.70) scale(0.56,1)" font-family="Liberation Sans" font-size="7.0" font-weight="normal" text-anchor="end" fill="#2a2a2a" stroke="#2a2a2a" stroke-width="0.12">0.6</text>
<text transform="translate(555.40,133.10) scale(0.56,1)" font-family="Liberation Sans" font-size="7.0" font-weight="normal" text-anchor="end" fill="#2a2a2a" stroke="#2a2a2a" stroke-width="0.12">0.8</text>
<text transform="translate(555.40,116.50) scale(0.56,1)" font-family="Liberation Sans" font-size="7.0" font-weight="normal" text-anchor="end" fill="#2a2a2a" stroke="#2a2a2a" stroke-width="0.12">1</text>
<text transform="translate(555.40,99.90) scale(0.56,1)" font-family="Liberation Sans" font-size="7.0" font-weight="normal" text-anchor="end" fill="#2a2a2a" stroke="#2a2a2a" stroke-width="0.12">1.2</text>
<text transform="translate(555.40,83.30) scale(0.56,1)" font-family="Liberation Sans" font-size="7.0" font-weight="normal" text-anchor="end" fill="#2a2a2a" stroke="#2a2a2a" stroke-width="0.12">1.4</text>
<text transform="translate(555.40,66.70) scale(0.56,1)" font-family="Liberation Sans" font-size="7.0" font-weight="normal" text-anchor="end" fill="#2a2a2a" stroke="#2a2a2a" stroke-width="0.12">1.6</text>
<text transform="translate(555.40,50.10) scale(0.56,1)" font-family="Liberation Sans" font-size="7.0" font-weight="normal" text-anchor="end" fill="#2a2a2a" stroke="#2a2a2a" stroke-width="0.12">1.8</text>
<text transform="translate(555.40,33.50) scale(0.56,1)" font-family="Liberation Sans" font-size="7.0" font-weight="normal" text-anchor="end" fill="#2a2a2a" stroke="#2a2a2a" stroke-width="0.12">2</text>
<text transform="translate(617.20,215.60) scale(0.45,1)" font-family="Liberation Sans" font-size="8.4" font-weight="normal" text-anchor="middle" fill="#2a2a2a" stroke="#2a2a2a" stroke-width="0.2">f1</text>
<text transform="translate(548.43,113.30) rotate(-90) scale(1,0.5)" font-family="Liberation Sans" font-size="7.4" font-weight="normal" text-anchor="middle" fill="#2a2a2a" stroke="#2a2a2a" stroke-width="0.3">f2</text>
<text transform="translate(616.90,27.70) scale(0.47,1)" font-family="Liberation Sans" font-size="8.8" font-weight="bold" text-anchor="middle" fill="#111" stroke="#111" stroke-width="0.18">MSSA</text>
<path d="M576.02 134.15L594.74 154.90M613.46 175.65L632.17 196.40" stroke="#000" stroke-width="2.5" stroke-linecap="round" fill="none"/>
<ellipse cx="557.30" cy="113.40" rx="1.0" ry="1.4" fill="#1fae1f"/>
<ellipse cx="594.74" cy="154.90" rx="1.0" ry="1.4" fill="#1fae1f"/>
<ellipse cx="632.17" cy="196.40" rx="1.0" ry="1.4" fill="#1fae1f"/>
<rect x="642.30" y="35.70" width="32.50" height="17.80" fill="#fff" stroke="#a0a0a0" stroke-width="0.6"/>
<rect x="647.80" y="39.20" width="1.8" height="2.6" fill="#138a13"/>
<rect x="647.80" y="47.40" width="1.8" height="2.6" fill="#ff7a7a"/>
<text transform="translate(655.70,42.90) scale(0.48,1)" font-family="Liberation Sans" font-size="6.6" font-weight="normal" text-anchor="start" fill="#2a2a2a" stroke="#2a2a2a" stroke-width="0.2">true PF</text>
<text transform="translate(655.70,51.00) scale(0.48,1)" font-family="Liberation Sans" font-size="6.6" font-weight="normal" text-anchor="start" fill="#2a2a2a" stroke="#2a2a2a" stroke-width="0.2">obtained PF</text>
<text transform="translate(615.50,238.90) scale(0.92,1)" font-family="Liberation Serif" font-size="19.4" font-weight="normal" text-anchor="middle" fill="#000" stroke="#000" stroke-width="0.22">(e)</text>
</svg>
</body></html>
